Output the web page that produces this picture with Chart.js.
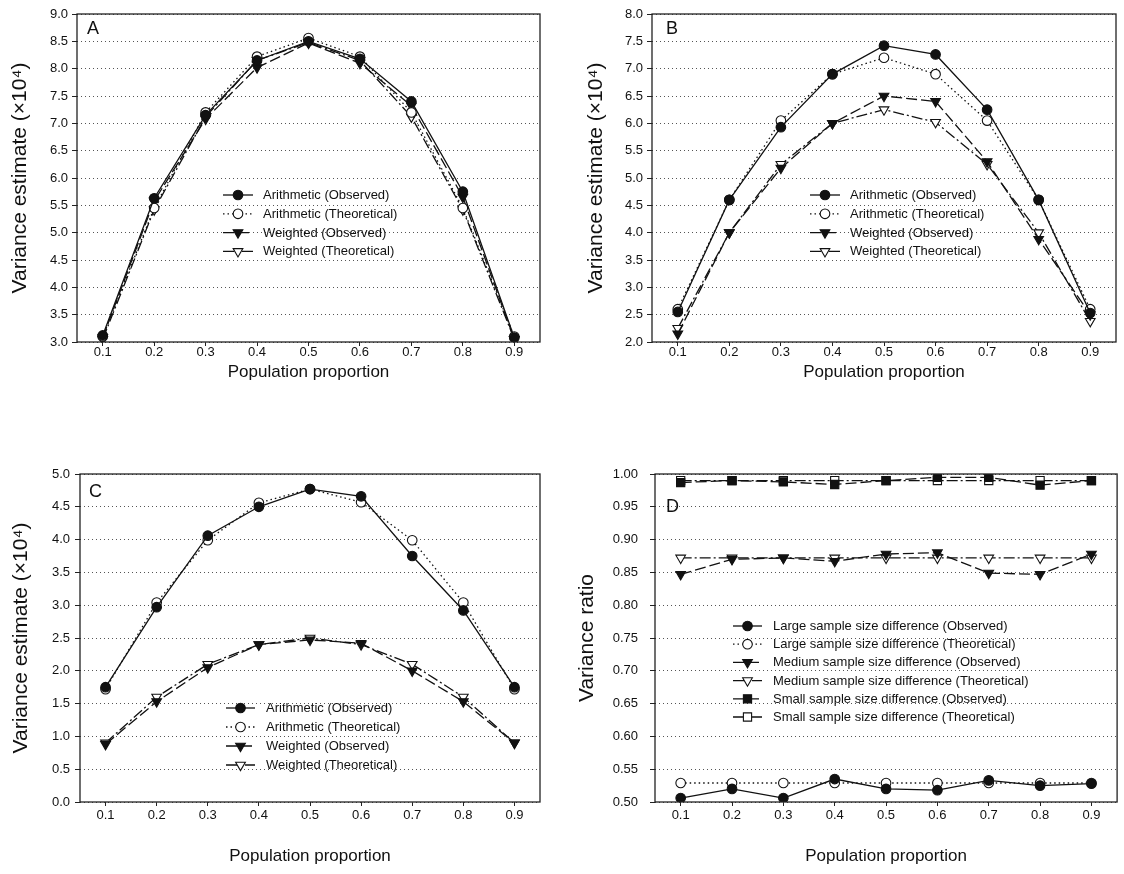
<!DOCTYPE html>
<html>
<head>
<meta charset="utf-8">
<script src="https://cdn.jsdelivr.net/npm/chart.js@4.4.1/dist/chart.umd.min.js"></script>
<style>
  body { margin: 0; background: #fff; }
  #wrap { position: relative; width: 1124px; height: 874px; }
  .cell { position: absolute; width: 562px; height: 437px; }
</style>
</head>
<body>
<div id="wrap">
  <div class="cell" style="left:0;top:0"><canvas id="chartA" width="562" height="437"></canvas></div>
  <div class="cell" style="left:562px;top:0"><canvas id="chartB" width="562" height="437"></canvas></div>
  <div class="cell" style="left:0;top:437px"><canvas id="chartC" width="562" height="437"></canvas></div>
  <div class="cell" style="left:562px;top:437px"><canvas id="chartD" width="562" height="437"></canvas></div>
</div>
<script>
// x categories
const proportions = ["0.1", "0.2", "0.3", "0.4", "0.5", "0.6", "0.7", "0.8", "0.9"];

// panel A
const aArithObs   = [3.12, 5.63, 7.15, 8.15, 8.50, 8.18, 7.40, 5.75, 3.08];
const aArithTheo  = [3.10, 5.45, 7.20, 8.22, 8.56, 8.22, 7.20, 5.45, 3.10];
const aWeightObs  = [3.08, 5.58, 7.08, 8.02, 8.47, 8.10, 7.32, 5.65, 3.05];
const aWeightTheo = [3.05, 5.42, 7.12, 8.15, 8.48, 8.15, 7.12, 5.42, 3.05];

// panel B
const bArithObs   = [2.55, 4.60, 5.93, 6.90, 7.42, 7.26, 6.25, 4.60, 2.53];
const bArithTheo  = [2.60, 4.60, 6.05, 6.90, 7.20, 6.90, 6.05, 4.60, 2.60];
const bWeightObs  = [2.15, 4.00, 5.18, 6.00, 6.50, 6.40, 5.30, 3.88, 2.50];
const bWeightTheo = [2.25, 4.00, 5.25, 6.00, 6.25, 6.02, 5.25, 4.00, 2.38];

// panel C
const cArithObs   = [1.75, 2.97, 4.06, 4.50, 4.77, 4.66, 3.75, 2.92, 1.75];
const cArithTheo  = [1.72, 3.04, 3.99, 4.56, 4.77, 4.57, 3.99, 3.04, 1.72];
const cWeightObs  = [0.88, 1.53, 2.05, 2.40, 2.47, 2.42, 2.00, 1.53, 0.90];
const cWeightTheo = [0.90, 1.60, 2.10, 2.40, 2.50, 2.40, 2.10, 1.60, 0.90];

// panel D
const dLargeObs   = [0.506, 0.520, 0.506, 0.535, 0.520, 0.518, 0.533, 0.525, 0.528];
const dLargeTheo  = [0.529, 0.529, 0.529, 0.529, 0.529, 0.529, 0.529, 0.529, 0.529];
const dMediumObs  = [0.847, 0.870, 0.872, 0.867, 0.878, 0.880, 0.849, 0.847, 0.878];
const dMediumTheo = [0.872, 0.872, 0.872, 0.872, 0.872, 0.872, 0.872, 0.872, 0.872];
const dSmallObs   = [0.987, 0.990, 0.988, 0.984, 0.990, 0.995, 0.995, 0.983, 0.990];
const dSmallTheo  = [0.990, 0.990, 0.990, 0.990, 0.990, 0.990, 0.990, 0.990, 0.990];

const FONT = "Arial, 'Liberation Sans', sans-serif";
const INK = "#111";

// line styles used by the figure
const SOLID = [], DOTTED = [1.5, 3], LONGDASH = [11, 4], DASHDOT = [11, 3, 2, 3];

function series(label, data, dash, shape, filled) {
  const r = shape === "rect" ? 5.8 : shape === "triangle" ? 5.6 : 4.8;
  return {
    label: label,
    data: data,
    borderColor: INK,
    borderWidth: 1.3,
    borderDash: dash,
    pointStyle: shape,
    pointRotation: shape === "triangle" ? 180 : 0,
    pointRadius: r,
    pointBorderWidth: 1.1,
    pointBorderColor: INK,
    pointBackgroundColor: filled ? INK : "#fff",
    tension: 0
  };
}

function drawMarker(ctx, shape, x, y, r, filled) {
  ctx.beginPath();
  if (shape === "circle") {
    ctx.arc(x, y, r, 0, Math.PI * 2);
  } else if (shape === "triangle") {
    let rad = Math.PI;
    ctx.moveTo(x + Math.sin(rad) * r, y - Math.cos(rad) * r);
    rad += Math.PI * 2 / 3;
    ctx.lineTo(x + Math.sin(rad) * r, y - Math.cos(rad) * r);
    rad += Math.PI * 2 / 3;
    ctx.lineTo(x + Math.sin(rad) * r, y - Math.cos(rad) * r);
    ctx.closePath();
  } else {
    const s = r * Math.SQRT1_2;
    ctx.rect(x - s, y - s, 2 * s, 2 * s);
  }
  ctx.fillStyle = filled ? INK : "#fff";
  ctx.fill();
  ctx.setLineDash([]);
  ctx.lineWidth = 1.1;
  ctx.strokeStyle = INK;
  ctx.stroke();
}

// frame, panel letter and in-plot legend
const panelExtras = {
  id: "panelExtras",
  afterDraw(chart, args, opts) {
    const ctx = chart.ctx, a = chart.chartArea;
    ctx.save();
    ctx.strokeStyle = "#222";
    ctx.lineWidth = 1.3;
    ctx.setLineDash([]);
    ctx.strokeRect(a.left, a.top, a.right - a.left, a.bottom - a.top);

    ctx.fillStyle = INK;
    ctx.font = "18px " + FONT;
    ctx.textBaseline = "middle";
    ctx.textAlign = "left";
    ctx.fillText(opts.letter, opts.letterX, opts.letterY);

    ctx.font = "13px " + FONT;
    chart.data.datasets.forEach((ds, i) => {
      const y = opts.legY + i * opts.legDy;
      ctx.beginPath();
      ctx.strokeStyle = INK;
      ctx.lineWidth = ds.borderWidth;
      ctx.setLineDash(ds.borderDash);
      ctx.moveTo(opts.legX0, y);
      ctx.lineTo(opts.legX1, y);
      ctx.stroke();
      drawMarker(ctx, ds.pointStyle, (opts.legX0 + opts.legX1) / 2, y, ds.pointRadius, ds.pointBackgroundColor === INK);
      ctx.fillStyle = INK;
      ctx.fillText(ds.label, opts.legTextX, y + 0.5);
    });
    ctx.restore();
  }
};

function makePanel(id, p, datasets) {
  new Chart(document.getElementById(id), {
    type: "line",
    data: { labels: proportions, datasets: datasets },
    plugins: [panelExtras],
    options: {
      responsive: false,
      animation: false,
      events: [],
      layout: { padding: { left: 0, top: p.top, right: 562 - p.right, bottom: 0 } },
      plugins: {
        legend: { display: false },
        tooltip: { enabled: false },
        panelExtras: p.extras
      },
      scales: {
        x: {
          type: "category",
          offset: true,
          afterFit: s => { s.height = 437 - p.bottom; },
          grid: { drawOnChartArea: false, drawTicks: true, tickLength: 4, tickColor: "#222", tickWidth: 1 },
          border: { display: false },
          ticks: { color: INK, font: { family: FONT, size: 13 }, padding: p.xTickPad, maxRotation: 0 },
          title: { display: true, text: "Population proportion", color: INK,
                   font: { family: FONT, size: 17 }, padding: { top: 0, bottom: p.xTitlePad } }
        },
        y: {
          min: p.yMin,
          max: p.yMax,
          afterFit: s => { s.width = p.left; },
          grid: { color: "#555", lineWidth: 1, drawTicks: true, tickLength: 5,
                  tickColor: "#222", tickWidth: 1, tickBorderDash: [] },
          border: { display: false, dash: [1, 3] },
          ticks: { stepSize: p.step, color: INK, font: { family: FONT, size: 13 }, padding: p.yTickPad,
                   callback: v => Number(v).toFixed(p.dec) },
          title: { display: true, text: p.yTitle, color: INK,
                   font: { family: FONT, size: 21 }, padding: { top: p.yTitlePad, bottom: 0 } }
        }
      }
    }
  });
}

const varTitle = "Variance estimate (\u00d710\u2074)";

makePanel("chartA",
  { left: 77, top: 14, right: 540, bottom: 342, yMin: 3, yMax: 9, step: 0.5, dec: 1,
    yTitle: varTitle, yTitlePad: 8, yTickPad: 4, xTickPad: -1, xTitlePad: 54,
    extras: { letter: "A", letterX: 87, letterY: 29, legX0: 223, legX1: 253, legTextX: 263, legY: 195, legDy: 18.8 } },
  [
    series("Arithmetic (Observed)", aArithObs, SOLID, "circle", true),
    series("Arithmetic (Theoretical)", aArithTheo, DOTTED, "circle", false),
    series("Weighted (Observed)", aWeightObs, LONGDASH, "triangle", true),
    series("Weighted (Theoretical)", aWeightTheo, DASHDOT, "triangle", false)
  ]);

makePanel("chartB",
  { left: 90, top: 14, right: 554, bottom: 342, yMin: 2, yMax: 8, step: 0.5, dec: 1,
    yTitle: varTitle, yTitlePad: 22, yTickPad: 4, xTickPad: -1, xTitlePad: 54,
    extras: { letter: "B", letterX: 104, letterY: 29, legX0: 248, legX1: 278, legTextX: 288, legY: 195, legDy: 18.8 } },
  [
    series("Arithmetic (Observed)", bArithObs, SOLID, "circle", true),
    series("Arithmetic (Theoretical)", bArithTheo, DOTTED, "circle", false),
    series("Weighted (Observed)", bWeightObs, LONGDASH, "triangle", true),
    series("Weighted (Theoretical)", bWeightTheo, DASHDOT, "triangle", false)
  ]);

makePanel("chartC",
  { left: 80, top: 37, right: 540, bottom: 365, yMin: 0, yMax: 5, step: 0.5, dec: 1,
    yTitle: varTitle, yTitlePad: 9, yTickPad: 5, xTickPad: 2, xTitlePad: 7,
    extras: { letter: "C", letterX: 89, letterY: 55, legX0: 226, legX1: 255, legTextX: 266, legY: 271, legDy: 19 } },
  [
    series("Arithmetic (Observed)", cArithObs, SOLID, "circle", true),
    series("Arithmetic (Theoretical)", cArithTheo, DOTTED, "circle", false),
    series("Weighted (Observed)", cWeightObs, LONGDASH, "triangle", true),
    series("Weighted (Theoretical)", cWeightTheo, DASHDOT, "triangle", false)
  ]);

makePanel("chartD",
  { left: 93, top: 37, right: 556, bottom: 365, yMin: 0.5, yMax: 1.0, step: 0.05, dec: 2,
    yTitle: "Variance ratio", yTitlePad: 13, yTickPad: 12, xTickPad: 2, xTitlePad: 7,
    extras: { letter: "D", letterX: 104, letterY: 70, legX0: 171, legX1: 200, legTextX: 211, legY: 189, legDy: 18.2 } },
  [
    series("Large sample size difference (Observed)", dLargeObs, SOLID, "circle", true),
    series("Large sample size difference (Theoretical)", dLargeTheo, DOTTED, "circle", false),
    series("Medium sample size difference (Observed)", dMediumObs, LONGDASH, "triangle", true),
    series("Medium sample size difference (Theoretical)", dMediumTheo, DASHDOT, "triangle", false),
    series("Small sample size difference (Observed)", dSmallObs, LONGDASH, "rect", true),
    series("Small sample size difference (Theoretical)", dSmallTheo, DASHDOT, "rect", false)
  ]);
</script>
</body>
</html>
